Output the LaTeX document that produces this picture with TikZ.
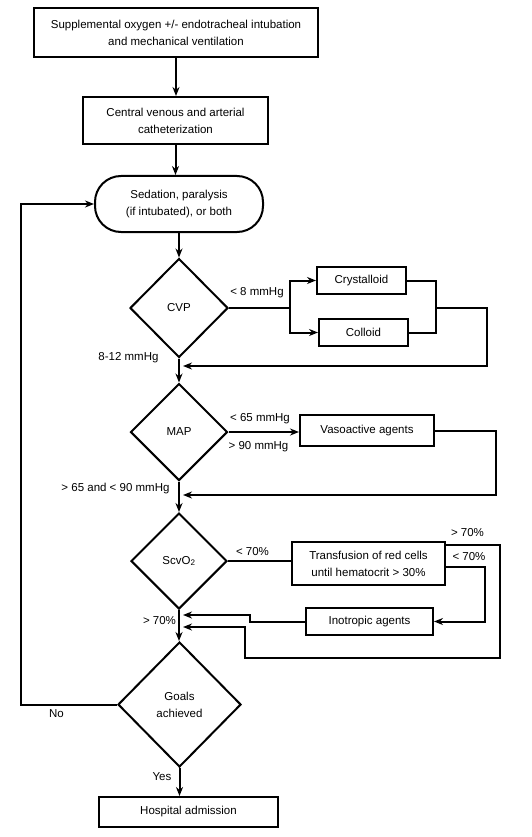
\documentclass[tikz,border=0pt]{standalone}
\usepackage{fontspec}
\setmainfont{Liberation Sans}
\usetikzlibrary{shapes.geometric,arrows.meta}
\begin{document}
\begin{tikzpicture}[x=1pt,y=-1pt,
  every node/.style={font=\fontsize{11.5}{17}\selectfont, inner sep=0pt},
  box/.style={draw, line width=2pt, rectangle, align=center},
  term/.style={draw, line width=2pt, rectangle, rounded corners=26pt, align=center},
  dia/.style={draw, line width=2pt, diamond, align=center},
  line/.style={line width=2pt},
  arr/.style={line width=2pt, -{Stealth[length=9pt,width=7pt]}},
  lab/.style={}
]
\useasboundingbox (0,0) rectangle (532,837);
% nodes
\node[box, minimum width=284pt, minimum height=49pt] (b1) at (176,32.5) {Supplemental oxygen +/- endotracheal intubation\\and mechanical ventilation};
\node[box, minimum width=185pt, minimum height=47pt] (b2) at (175.5,120.5) {Central venous and arterial\\catheterization};
\node[term, minimum width=168pt, minimum height=56pt] (term) at (179,204) {Sedation, paralysis\\(if intubated), or both};
\node[dia, minimum width=98pt, minimum height=99pt] (cvp) at (179,308) {CVP};
\node[box, minimum width=89pt, minimum height=27pt] (cryst) at (361.5,280.5) {Crystalloid};
\node[box, minimum width=89pt, minimum height=27pt] (coll) at (363.5,332.5) {Colloid};
\node[dia, minimum width=97pt, minimum height=97pt] (map) at (179,432) {MAP};
\node[box, minimum width=134pt, minimum height=31pt] (vaso) at (367,430.5) {Vasoactive agents};
\node[dia, minimum width=96pt, minimum height=96pt] (scv) at (179,561) {ScvO\textsubscript{2}};
\node[box, minimum width=153pt, minimum height=43pt] (trans) at (368.5,563.5) {Transfusion of red cells\\until hematocrit > 30\%};
\node[box, minimum width=127pt, minimum height=27pt] (ino) at (369.5,621.5) {Inotropic agents};
\node[dia, minimum width=123pt, minimum height=125pt] (goals) at (179.5,704.5) {Goals\\achieved};
\node[box, minimum width=179pt, minimum height=30pt] (hosp) at (188.5,812) {Hospital admission};
% labels
\node[lab] (l1) at (257,293) {< 8 mmHg};
\node[lab] (l2) at (128.5,358) {8-12 mmHg};
\node[lab] (l3) at (260,419) {< 65 mmHg};
\node[lab] (l4) at (258.5,447) {> 90 mmHg};
\node[lab] (l5) at (115.5,489) {> 65 and < 90 mmHg};
\node[lab] (l6) at (252.5,552) {< 70\%};
\node[lab] (l7) at (467.5,533) {> 70\%};
\node[lab] (l8) at (469,557) {< 70\%};
\node[lab] (l9) at (159.5,621) {> 70\%};
\node[lab] (l10) at (56.5,714) {No};
\node[lab] (l11) at (162,777) {Yes};
% coordinates
\coordinate (s1) at (290,308);
\coordinate (m1) at (436,308);
\coordinate (r1) at (487,366);
\coordinate (j1) at (183,366);
\coordinate (r2) at (496,495);
\coordinate (j2) at (183,495);
\coordinate (t1) at (445,545);
\coordinate (r3) at (500,658);
\coordinate (c3) at (245,627);
\coordinate (j3) at (183,627);
\coordinate (t2) at (445,567);
\coordinate (r4) at (485,621.5);
\coordinate (c4) at (250,615);
\coordinate (j4) at (183,615);
\coordinate (lf) at (21,204);
% connectors
\draw[arr] (b1.south) -- (b1.south |- b2.north);
\draw[arr] (b2.south) -- (b2.south |- term.north);
\draw[arr] (term.south) -- (cvp.north);
\draw[line] (cvp.east) -- (s1);
\draw[arr] (s1) |- (cryst.west);
\draw[arr] (s1) |- (coll.west);
\draw[line] (cryst.east) -| (m1) |- (coll.east);
\draw[arr] (m1) -| (r1) -- (j1);
\draw[arr] (cvp.south) -- (map.north);
\draw[arr] (map.east) -- (map.east -| vaso.west);
\draw[arr] (vaso.east) -| (r2) -- (j2);
\draw[arr] (map.south) -- (scv.north);
\draw[line] (scv.east) -- (scv.east -| trans.west);
\draw[arr] (t1) -| (r3) -| (c3) -- (j3);
\draw[arr] (t2) -| (r4) -- (ino.east);
\draw[arr] (ino.west) -| (c4) -- (j4);
\draw[arr] (scv.south) -- (scv.south |- goals.north);
\draw[arr] (goals.west) -| (lf) -- (term.west);
\draw[arr] (goals.south) -- (goals.south |- hosp.north);
\end{tikzpicture}
\end{document}
